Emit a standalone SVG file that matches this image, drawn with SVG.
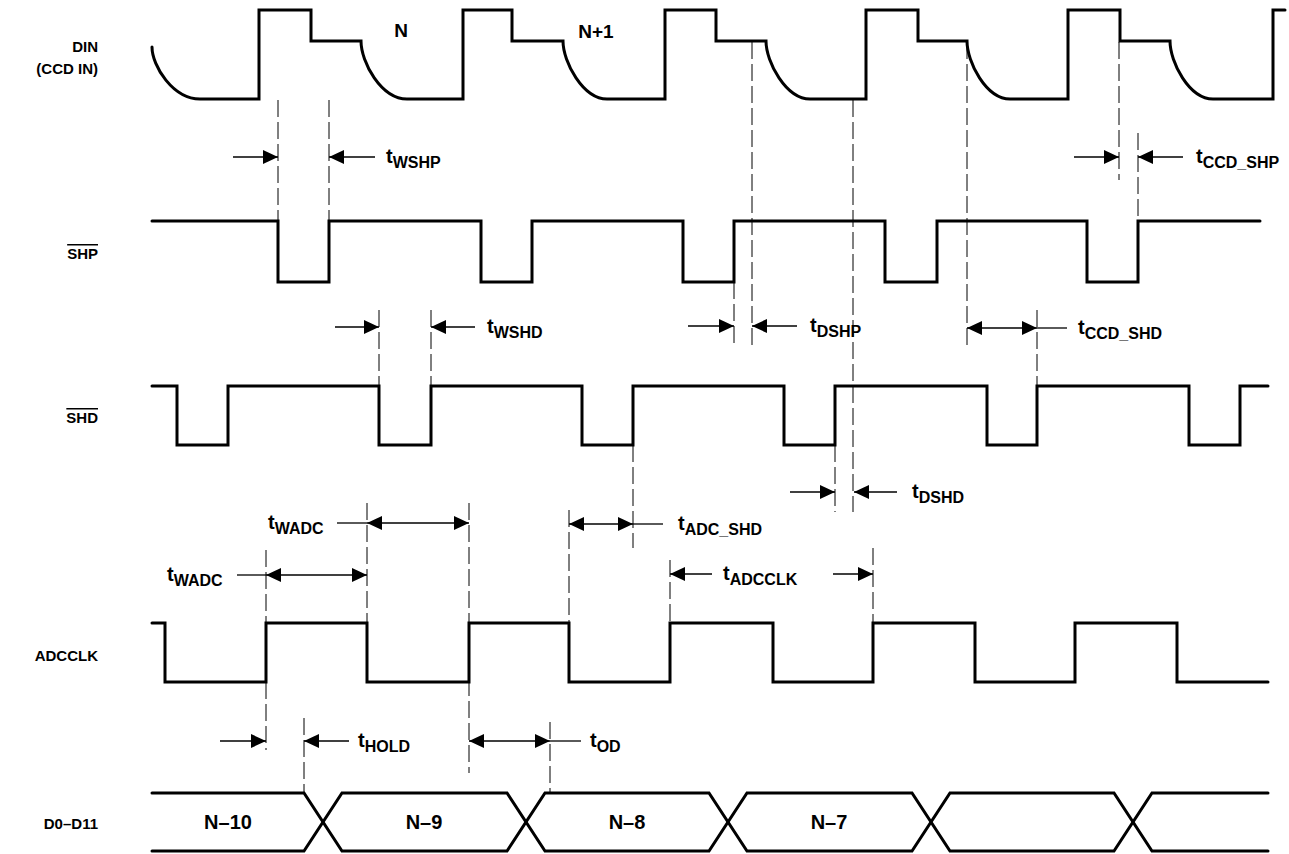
<svg xmlns="http://www.w3.org/2000/svg" width="1289" height="854" viewBox="0 0 1289 854">
<style>
  .sig { fill: none; stroke: #000; stroke-width: 3; stroke-linejoin: miter; stroke-linecap: round; }
  .dash { fill: none; stroke: #000; stroke-width: 1; stroke-dasharray: 17 5; }
  .arr { fill: none; stroke: #000; stroke-width: 1.3; }
  .lbl { font-family: "Liberation Sans", Arial, sans-serif; font-weight: bold; font-size: 15px; fill: #000; }
  .t { font-family: "Liberation Sans", Arial, sans-serif; font-weight: bold; font-size: 20px; fill: #000; }
  .sub { font-size: 16px; }
  .bus { font-family: "Liberation Sans", Arial, sans-serif; font-weight: bold; font-size: 20px; fill: #000; text-anchor: middle; }
  .nn { font-family: "Liberation Sans", Arial, sans-serif; font-weight: bold; font-size: 19px; fill: #000; text-anchor: middle; }
  .ov { text-decoration: overline; }
</style>
<defs>
  <marker id="ah" viewBox="0 0 15 14" refX="15" refY="7" markerWidth="15" markerHeight="14" markerUnits="userSpaceOnUse" orient="auto-start-reverse">
    <path d="M0,0 L15,7 L0,14 z" fill="#000"/>
  </marker>
</defs>
<rect width="1289" height="854" fill="#fff"/>

<g id="labels">
  <text class="lbl" x="98" y="52" text-anchor="end">DIN</text>
  <text class="lbl" x="98" y="74" text-anchor="end">(CCD IN)</text>
  <text class="lbl ov" x="98" y="259" text-anchor="end">SHP</text>
  <text class="lbl ov" x="98" y="423" text-anchor="end">SHD</text>
  <text class="lbl" x="98" y="661" text-anchor="end">ADCCLK</text>
  <text class="lbl" x="98" y="829" text-anchor="end">D0–D11</text>
</g>

<g id="din">
  <path class="sig" d="M152,47 C152,66 173,99 200,99 L259,99 L259,10 L311,10 L311,41 L361,41 C361,62 381,99 407,99 L463,99 L463,10 L512,10 L512,41 L563,41 C563,62 583,99 607,99 L665,99 L665,10 L716,10 L716,41 L766,41 C766,62 786,99 810,99 L866,99 L866,10 L918,10 L918,41 L967,41 C967,62 986,99 1010,99 L1068,99 L1068,10 L1120,10 L1120,41 L1170,41 C1170,62 1189,99 1213,99 L1273,99 L1273,10 L1285,10"/>
  <text class="nn" x="401" y="37">N</text>
  <text class="nn" x="596" y="38">N+1</text>
</g>

<g id="shp">
  <path class="sig" d="M152,221 L278,221 L278,282 L329,282 L329,221 L481,221 L481,282 L532,282 L532,221 L683,221 L683,282 L734,282 L734,221 L885,221 L885,282 L937,282 L937,221 L1087,221 L1087,282 L1138,282 L1138,221 L1260,221"/>
</g>

<g id="shd">
  <path class="sig" d="M152,386 L177,386 L177,445 L228,445 L228,386 L379,386 L379,445 L431,445 L431,386 L582,386 L582,445 L633,445 L633,386 L784,386 L784,445 L835,445 L835,386 L987,386 L987,445 L1037,445 L1037,386 L1189,386 L1189,445 L1240,445 L1240,386 L1268,386"/>
</g>

<g id="adcclk">
  <path class="sig" d="M152,623 L165,623 L165,682 L266,682 L266,623 L367,623 L367,682 L469,682 L469,623 L569,623 L569,682 L670,682 L670,623 L773,623 L773,682 L873,682 L873,623 L975,623 L975,682 L1075,682 L1075,623 L1177,623 L1177,682 L1268,682"/>
</g>

<g id="data">
  <path class="sig" d="M152,793 L304,793 L342,851 L507,851 L545,793 L709,793 L747,851 L912,851 L950,793 L1114,793 L1152,851 L1268,851"/>
  <path class="sig" d="M152,851 L304,851 L342,793 L507,793 L545,851 L709,851 L747,793 L912,793 L950,851 L1114,851 L1152,793 L1268,793"/>
  <text class="bus" x="228" y="829">N–10</text>
  <text class="bus" x="424" y="829">N–9</text>
  <text class="bus" x="627" y="829">N–8</text>
  <text class="bus" x="829" y="829">N–7</text>
</g>

<g id="connectors">
  <line class="dash" x1="278" y1="100" x2="278" y2="221"/>
  <line class="dash" x1="329" y1="100" x2="329" y2="221"/>
  <line class="dash" x1="752" y1="42" x2="752" y2="348"/>
  <line class="dash" x1="853" y1="100" x2="853" y2="512"/>
  <line class="dash" x1="967" y1="42" x2="967" y2="347"/>
  <line class="dash" x1="1119" y1="42" x2="1119" y2="180"/>
  <line class="dash" x1="1138" y1="133" x2="1138" y2="221"/>
  <line class="dash" x1="734" y1="282" x2="734" y2="347"/>
  <line class="dash" x1="1037" y1="310" x2="1037" y2="386"/>
  <line class="dash" x1="379" y1="310" x2="379" y2="386"/>
  <line class="dash" x1="431" y1="310" x2="431" y2="386"/>
  <line class="dash" x1="835" y1="445" x2="835" y2="512"/>
  <line class="dash" x1="633" y1="445" x2="633" y2="548"/>
  <line class="dash" x1="569" y1="510" x2="569" y2="623"/>
  <line class="dash" x1="670" y1="560" x2="670" y2="623"/>
  <line class="dash" x1="873" y1="548" x2="873" y2="623"/>
  <line class="dash" x1="266" y1="550" x2="266" y2="750"/>
  <line class="dash" x1="367" y1="503" x2="367" y2="623"/>
  <line class="dash" x1="469" y1="503" x2="469" y2="773"/>
  <line class="dash" x1="304" y1="718" x2="304" y2="793"/>
  <line class="dash" x1="550" y1="722" x2="550" y2="793"/>

  <line class="arr" x1="233" y1="157" x2="278" y2="157" marker-end="url(#ah)"/>
  <line class="arr" x1="375" y1="157" x2="329" y2="157" marker-end="url(#ah)"/>
  <line class="arr" x1="1074" y1="157" x2="1119" y2="157" marker-end="url(#ah)"/>
  <line class="arr" x1="1183" y1="157" x2="1138" y2="157" marker-end="url(#ah)"/>
  <line class="arr" x1="335" y1="327" x2="379" y2="327" marker-end="url(#ah)"/>
  <line class="arr" x1="475" y1="327" x2="431" y2="327" marker-end="url(#ah)"/>
  <line class="arr" x1="688" y1="326" x2="734" y2="326" marker-end="url(#ah)"/>
  <line class="arr" x1="797" y1="326" x2="752" y2="326" marker-end="url(#ah)"/>
  <line class="arr" x1="967" y1="328" x2="1037" y2="328" marker-start="url(#ah)" marker-end="url(#ah)"/>
  <line class="arr" x1="1037" y1="328" x2="1067" y2="328"/>
  <line class="arr" x1="790" y1="492" x2="835" y2="492" marker-end="url(#ah)"/>
  <line class="arr" x1="897" y1="492" x2="854" y2="492" marker-end="url(#ah)"/>
  <line class="arr" x1="569" y1="524" x2="633" y2="524" marker-start="url(#ah)" marker-end="url(#ah)"/>
  <line class="arr" x1="633" y1="524" x2="663" y2="524"/>
  <line class="arr" x1="337" y1="523" x2="367" y2="523"/>
  <line class="arr" x1="367" y1="523" x2="469" y2="523" marker-start="url(#ah)" marker-end="url(#ah)"/>
  <line class="arr" x1="237" y1="575" x2="266" y2="575"/>
  <line class="arr" x1="266" y1="575" x2="367" y2="575" marker-start="url(#ah)" marker-end="url(#ah)"/>
  <line class="arr" x1="712" y1="574" x2="670" y2="574" marker-end="url(#ah)"/>
  <line class="arr" x1="833" y1="574" x2="873" y2="574" marker-end="url(#ah)"/>
  <line class="arr" x1="220" y1="741" x2="266" y2="741" marker-end="url(#ah)"/>
  <line class="arr" x1="349" y1="741" x2="304" y2="741" marker-end="url(#ah)"/>
  <line class="arr" x1="469" y1="741" x2="550" y2="741" marker-start="url(#ah)" marker-end="url(#ah)"/>
  <line class="arr" x1="550" y1="741" x2="581" y2="741"/>
</g>

<g id="timing-labels">
  <text class="t" x="386" y="163">t<tspan class="sub" dy="5">WSHP</tspan></text>
  <text class="t" x="1196" y="163">t<tspan class="sub" dy="5">CCD_SHP</tspan></text>
  <text class="t" x="487" y="333">t<tspan class="sub" dy="5">WSHD</tspan></text>
  <text class="t" x="810" y="332">t<tspan class="sub" dy="5">DSHP</tspan></text>
  <text class="t" x="1078" y="334">t<tspan class="sub" dy="5">CCD_SHD</tspan></text>
  <text class="t" x="912" y="498">t<tspan class="sub" dy="5">DSHD</tspan></text>
  <text class="t" x="678" y="530">t<tspan class="sub" dy="5">ADC_SHD</tspan></text>
  <text class="t" x="268" y="529">t<tspan class="sub" dy="5">WADC</tspan></text>
  <text class="t" x="167" y="581">t<tspan class="sub" dy="5">WADC</tspan></text>
  <text class="t" x="723" y="580">t<tspan class="sub" dy="5">ADCCLK</tspan></text>
  <text class="t" x="358" y="747">t<tspan class="sub" dy="5">HOLD</tspan></text>
  <text class="t" x="590" y="747">t<tspan class="sub" dy="5">OD</tspan></text>
</g>
</svg>
